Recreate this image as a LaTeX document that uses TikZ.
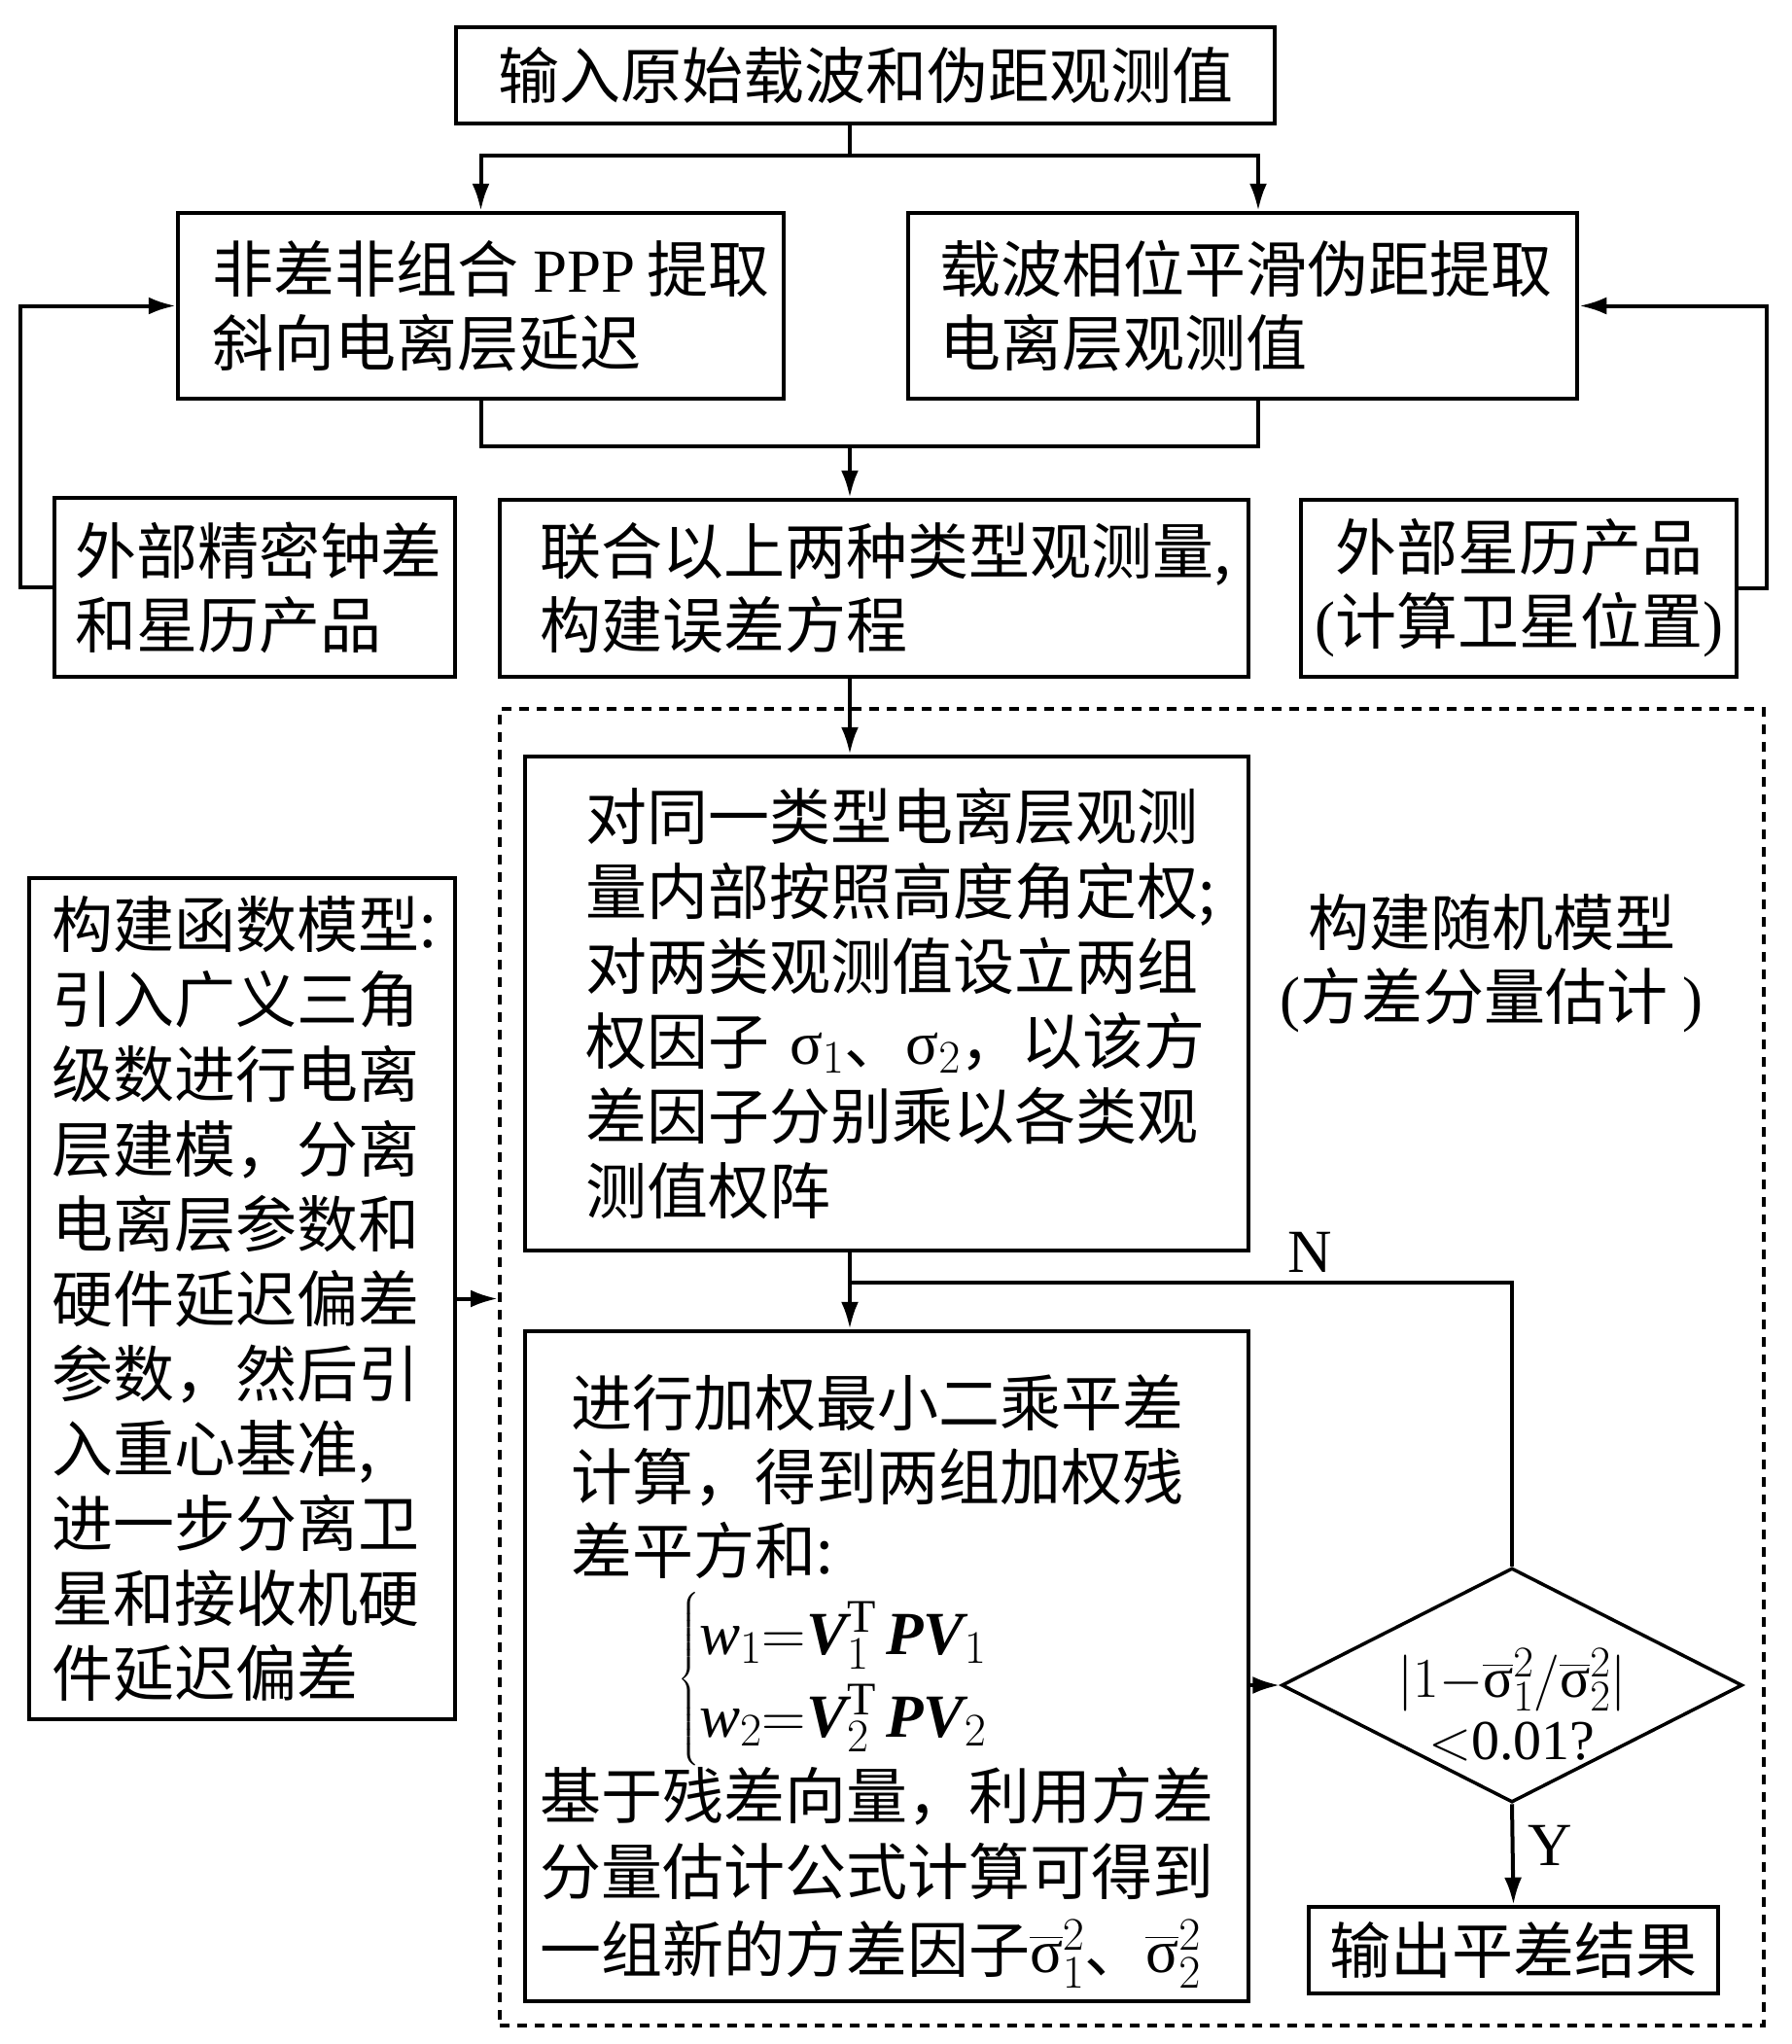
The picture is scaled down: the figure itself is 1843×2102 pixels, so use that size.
\RequirePackage{fix-cm}
\documentclass[tikz,border=0pt]{standalone}
\usepackage{amsmath}
\usepackage{fontspec}
\setmainfont{Liberation Serif}
\newfontfamily\zhfont{Noto Sans CJK SC}
\DeclareSymbolFont{operators}{TU}{\rmdefault}{m}{n}
\DeclareMathSizes{63}{63}{48}{38}
\DeclareMathSizes{58}{58}{45}{36}
\usetikzlibrary{arrows.meta}
\usetikzlibrary{shapes.geometric}
\usetikzlibrary{positioning}
\newcommand{\sg}{\mbox{\rmfamily σ}}
\newcommand{\sgb}{\overline{\sg}}
\newcommand{\bv}[1]{\mbox{\rmfamily\bfseries\itshape #1}}

\begin{document}
\begin{tikzpicture}[x=1pt, y=-1pt,
    box/.style={draw, line width=4.5pt, inner sep=0pt, align=left,
        font=\zhfont\fontsize{63}{76}\selectfont},
    line/.style={line width=4pt},
    arr/.style={line width=4pt, -{Latex[length=28pt,width=18pt]}},
    lbl/.style={font=\rmfamily\fontsize{63}{76}\selectfont}]

        \useasboundingbox (0,0) rectangle (1843,2102);
        \coordinate (axis) at (874,0);

        % stochastic model region
        \node[draw, line width=4pt, dash pattern=on 10pt off 8pt, minimum width=1300pt, minimum height=1354pt, inner sep=0pt] (rnd) at (1164,1406) {};
        \node[box, draw=none, align=center] (rndlbl) at (1534,991) {构建随机模型\\{\rmfamily(}方差分量估计 {\rmfamily)}};

        % input and the two extraction steps
        \node[box, align=center, minimum width=842pt, minimum height=99pt] (in) at (890,77.5) {输入原始载波和伪距观测值};
        \node[box, text width=553pt, minimum width=623pt, minimum height=191pt] (ppp) at (494.5,314.5) {\mbox{非差非组合\hspace{15pt}{\rmfamily PPP}\hspace{12pt}提取}\\斜向电离层延迟};
        \node[box, text width=624pt, minimum width=688pt, minimum height=191pt] (smp) at (1278,314.5) {载波相位平滑伪距提取\\电离层观测值};

        % external products and the error equation
        \node[box, text width=370pt, minimum width=412pt, minimum height=184pt] (clk) at (262,604) {外部精密钟差\\和星历产品};
        \node[box, text width=688pt, minimum width=770pt, minimum height=182pt] (eqn) at (899,605) {联合以上两种类型观测量,\\构建误差方程};
        \node[box, align=center, minimum width=448pt, minimum height=182pt] (eph) at (1562,605) {外部星历产品\\{\rmfamily(}计算卫星位置{\rmfamily)}};

        % functional model
        \node[box, text width=392pt, minimum width=438pt, minimum height=865pt, font=\zhfont\fontsize{63}{77}\selectfont] (fm) at (249,1335.5) {构建函数模型:\\引入广义三角\\级数进行电离\\层建模，分离\\电离层参数和\\硬件延迟偏差\\参数，然后引\\入重心基准,\\进一步分离卫\\星和接收机硬\\件延迟偏差};

        % weighting and adjustment
        \node[box, text width=620pt, minimum width=744pt, minimum height=508pt, font=\zhfont\fontsize{63}{77}\selectfont] (wgt) at (912,1032) {对同一类型电离层观测\\量内部按照高度角定权;\\对两类观测值设立两组\\权因子~$\sg_1$、$\sg_2$，以该方\\差因子分别乘以各类观\\测值权阵};
        \node[box, text width=714pt, minimum width=744pt, minimum height=689pt] (lsq) at (912,1713.5) {\rule{0pt}{84pt}\hspace*{32pt}进行加权最小二乘平差\\
            \hspace*{32pt}计算，得到两组加权残\\
            \hspace*{32pt}差平方和:\\[12pt]
            \hspace*{142pt}{\renewcommand{\arraystretch}{1.12}$\left\{\begin{array}{@{}l@{}}
                \mbox{\rmfamily\itshape w}_1{=}\bv{V}_1^{\mathrm{T}}\,\bv{PV}_1\\
                \mbox{\rmfamily\itshape w}_2{=}\bv{V}_2^{\mathrm{T}}\,\bv{PV}_2
            \end{array}\right.$}\\
            基于残差向量，利用方差\\[2pt]
            分量估计公式计算可得到\\[4pt]
            一组新的方差因子$\sgb_1^2$、$\sgb_2^2$};

        % convergence check and output
        \node[draw, diamond, line width=3.5pt, minimum width=474pt, minimum height=241pt, inner sep=0pt] (chk) at (1555,1733) {};
        \node[lbl, align=center, font=\fontsize{58}{64}\selectfont] (chktxt) at ([yshift=-20pt]chk.center) {$|1{-}\sgb_1^2/\sgb_2^2|$\\$<$0.01?};
        \node[box, align=center, minimum width=421pt, minimum height=89pt] (out) at (1556.5,2005.5) {输出平差结果};
        \node[lbl] (nlbl) at (1347,1288) {N};
        \node[lbl] (ylbl) at (1594,1898) {Y};

        % fork and merge
        \draw[line] (in.south -| axis) -- ++(0,31) coordinate (fk);
        \draw[arr] (fk) -| (ppp.north);
        \draw[arr] (fk) -| ([xshift=16pt]smp.north);
        \coordinate (mg) at (874,459);
        \draw[line] (ppp.south) |- (mg) -| ([xshift=16pt]smp.south);
        \draw[arr] (mg) -- (eqn.north -| axis);

        % external products feed the extraction steps
        \draw[arr] (clk.west) -- ++(-33,0) |- (ppp.west);
        \draw[arr] (eph.east) -- ++(29,0) |- (smp.east);

        % stochastic model loop
        \draw[arr] (eqn.south -| axis) -- (wgt.north -| axis);
        \draw[arr] (fm.east) -- (fm.east -| rnd.west);
        \draw[arr] (wgt.south -| axis) -- (lsq.north -| axis);
        \coordinate (jn) at (874,1319);
        \draw[line] (chk.north) |- (jn);
        \draw[arr] (lsq.east |- chk.west) -- (chk.west);
        \draw[arr] (chk.south) -- (out.north);

    \end{tikzpicture}
\end{document}
